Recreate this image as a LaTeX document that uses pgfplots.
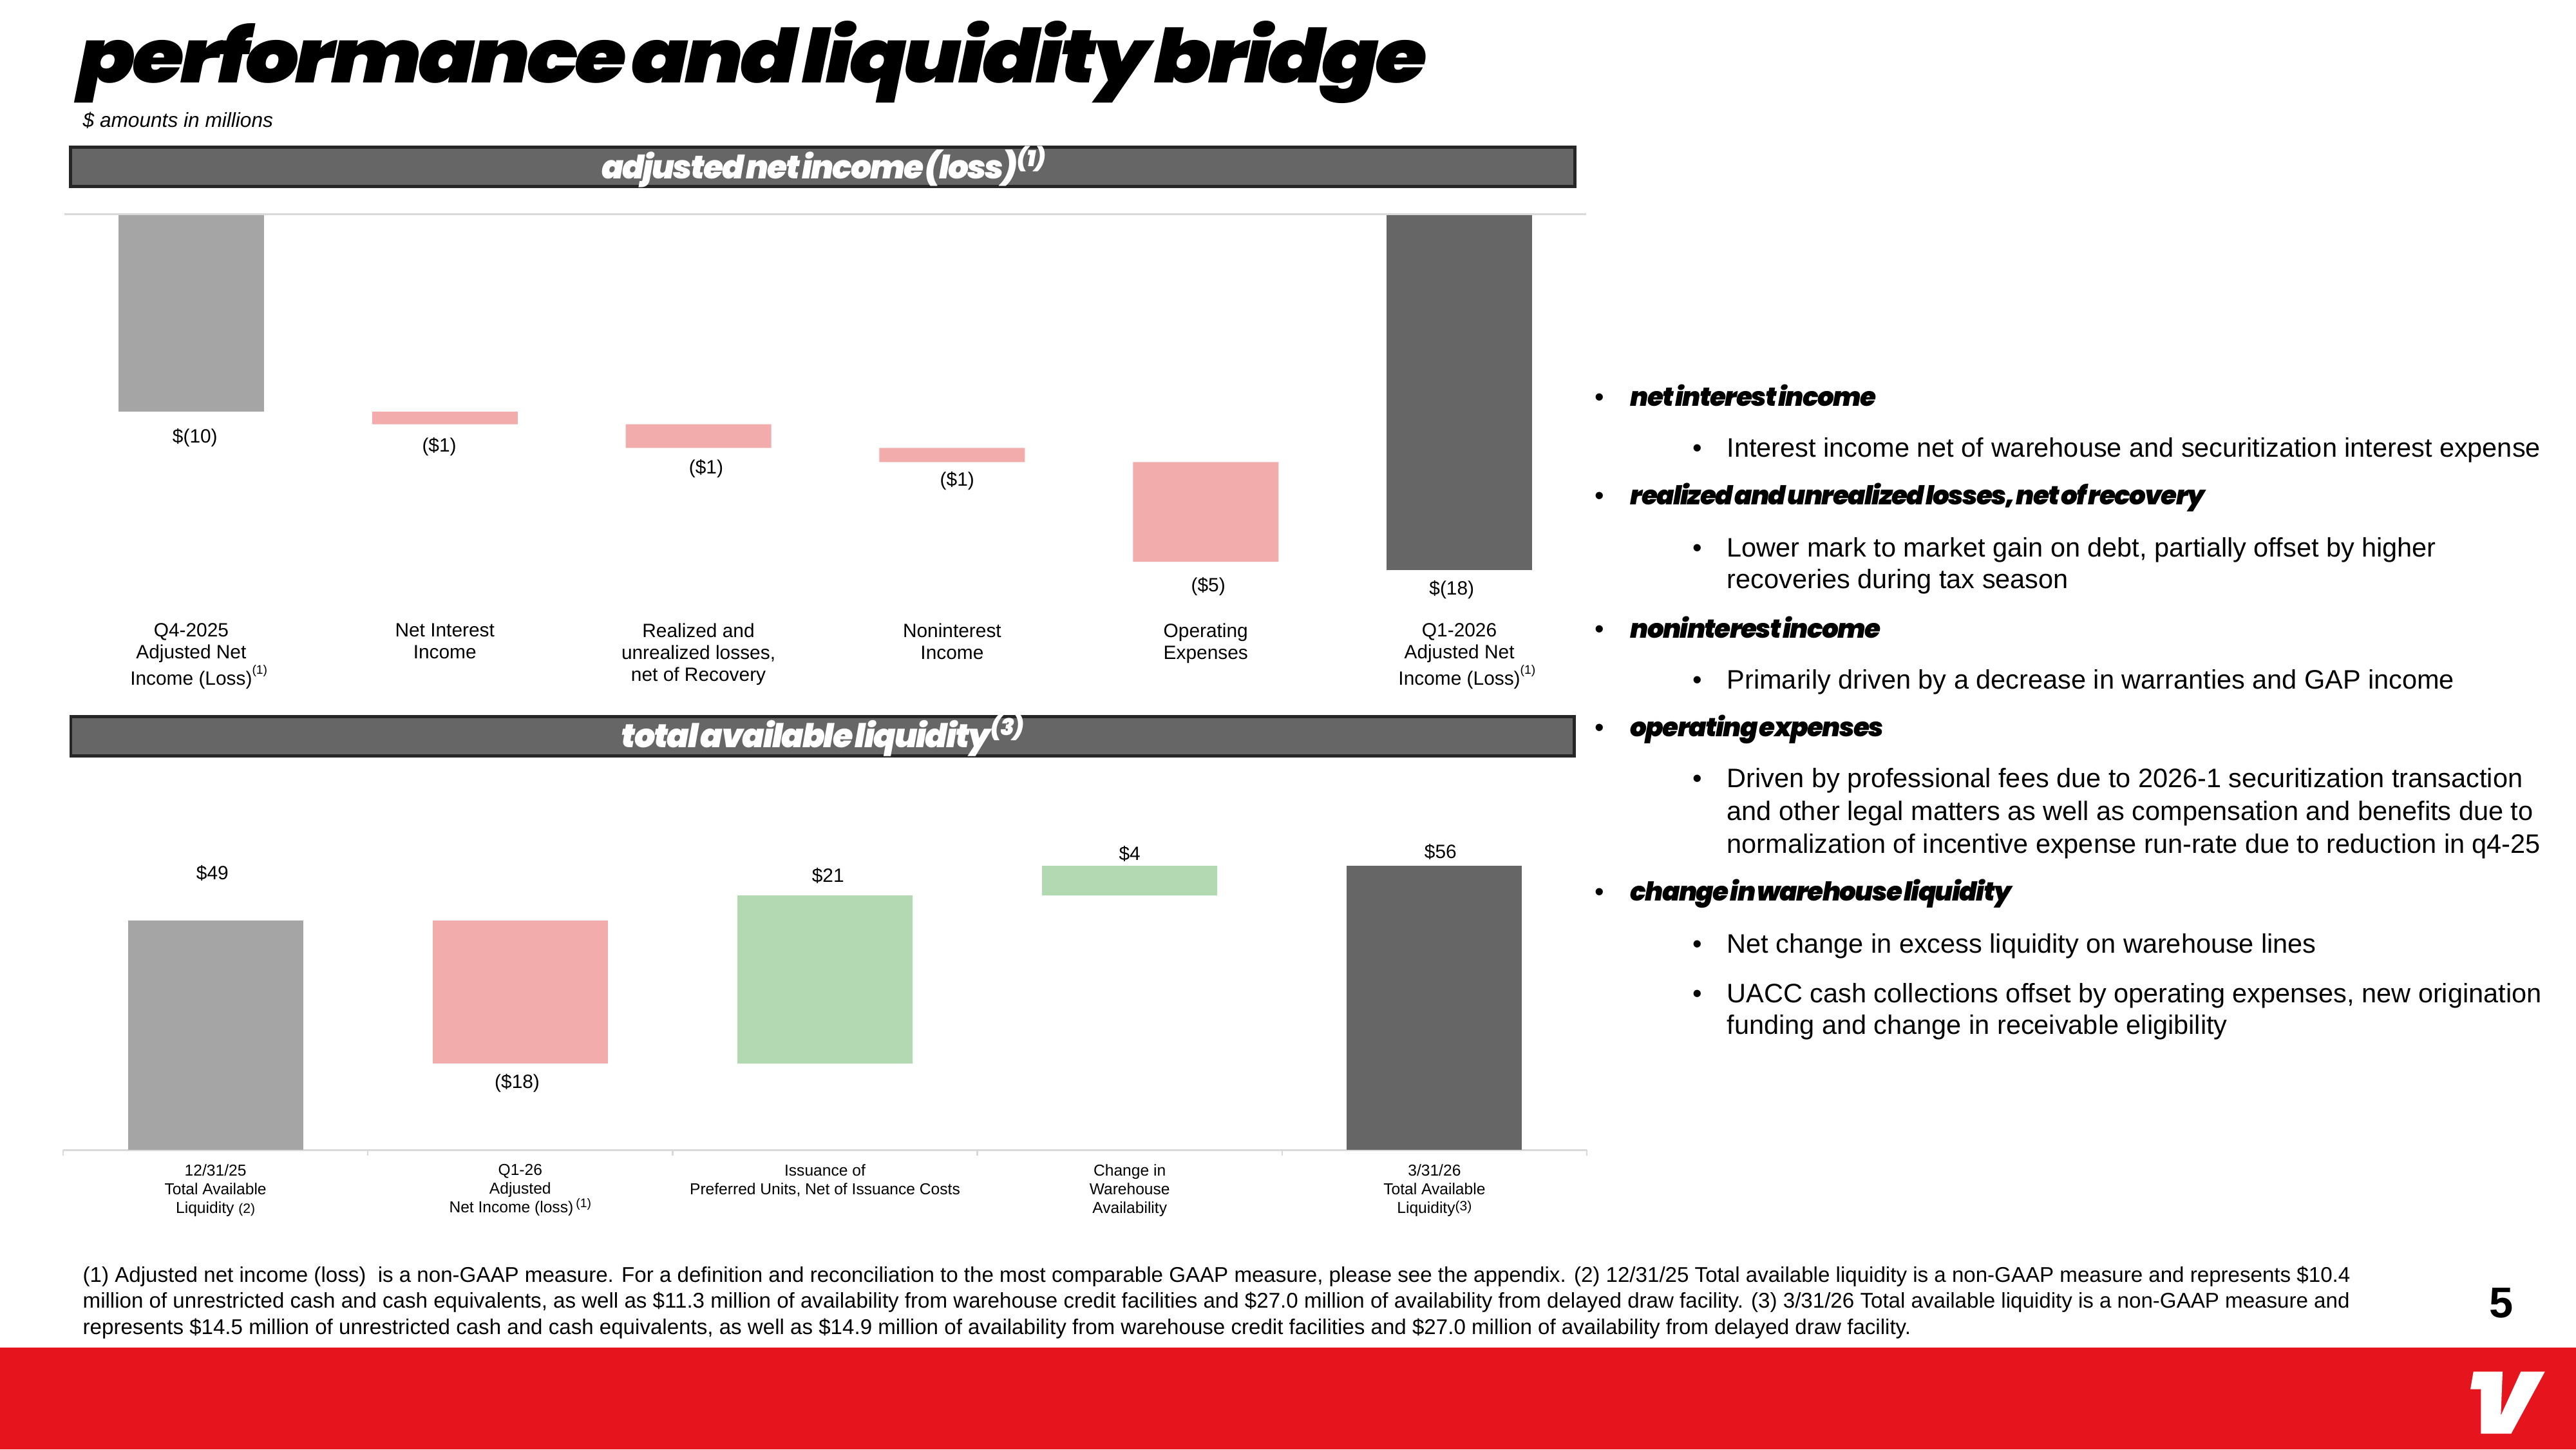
\documentclass[border=0pt]{standalone}
\usepackage{fontspec}
\usepackage{graphicx}
\usepackage{pgfplots}
\pgfplotsset{compat=1.18}
\setmainfont{Liberation Sans}
\IfFontExistsTF{Poppins Black Italic}
  {\newfontfamily\hfontx{Poppins Black Italic}[LetterSpace=-4,WordSpace=0.45]\newcommand\hfont{\hfontx}}
  {\newfontfamily\hfontx{Poppins}[LetterSpace=-4,WordSpace=0.45]\newcommand\hfont{\hfontx\bfseries\itshape}}
\definecolor{barg}{HTML}{A5A5A5}
\definecolor{bard}{HTML}{666666}
\definecolor{pinkb}{HTML}{F2ACAC}
\definecolor{greenb}{HTML}{B3D9B3}
\definecolor{hdrbd}{HTML}{262626}
\definecolor{hdrf}{HTML}{666666}
\definecolor{lineg}{HTML}{D9D9D9}
\definecolor{vred}{HTML}{E6141C}
\newcommand\lab{\fontsize{8.5}{9.7}\selectfont}
\newcommand\labs{\fontsize{7}{8.25}\selectfont}
\newcommand\supone{\rlap{\raisebox{0.55em}{\fontsize{5.5}{6}\selectfont(1)}}}
\newcommand\subtxt{\fontsize{11.8}{14.2}\selectfont}
\newcommand\hd{\hfont\fontsize{11.5}{13}\selectfont}
\newcommand\fn{\fontsize{9.42}{11.6}\selectfont}
\begin{document}
\begin{tikzpicture}
\useasboundingbox (0,0) rectangle (400mm,-225mm);
\fill[white] (0,0) rectangle (400mm,-225mm);
% red band and logo
\fill[vred] (0,-209.2mm) rectangle (400mm,-225mm);
\fill[white] (384.07mm,-212.93mm) -- (388.6mm,-212.93mm) -- (388.33mm,-219.73mm) -- (391.43mm,-212.93mm) -- (395.17mm,-212.93mm) -- (389.93mm,-222.57mm) -- (385.23mm,-222.57mm) -- (385.23mm,-215.67mm) -- (383.6mm,-215.67mm) -- cycle;
% title
\node[anchor=base west, inner sep=0pt] at (12.1mm,-12.8mm) {\resizebox{209.4mm}{9.6mm}{\hfont performance and liquidity bridge}};
\node[anchor=base west, inner sep=0pt, font=\fontsize{9}{10}\selectfont\itshape] at (12.8mm,-19.7mm) {\$ amounts in millions};
% header bars
\draw[hdrbd, fill=hdrf, line width=0.46mm] (10.93mm,-22.83mm) rectangle (244.57mm,-28.97mm);
\node[anchor=base, inner sep=0pt, text=white] at (128mm,-27.7mm) {\resizebox{69.2mm}{!}{\hfont adjusted net income (loss)\textsuperscript{(1)}}};
\draw[hdrbd, fill=hdrf, line width=0.46mm] (10.99mm,-111.23mm) rectangle (244.47mm,-117.32mm);
\node[anchor=base, inner sep=0pt, text=white] at (127.9mm,-116.0mm) {\resizebox{62.8mm}{!}{\hfont total available liquidity\textsuperscript{(3)}}};

% ---------- top chart ----------
\begin{axis}[
  at={(10mm,-89.83mm)}, anchor=south west, scale only axis,
  width=236.3mm, height=56.43mm,
  xmin=-0.5, xmax=5.5, ymin=-18.5, ymax=0,
  ybar stacked, bar width=22.6mm,
  axis line style={draw=none}, major tick length=0pt, ytick=\empty,
  xtick={0,1,2,3,4,5},
  xticklabels={{Q4-2025\\Adjusted Net\\Income (Loss)\supone},{Net Interest\\Income},{Realized and\\unrealized losses,\\net of Recovery},{Noninterest\\Income},{Operating\\Expenses},{Q1-2026\\Adjusted Net\\Income (Loss)\supone}},
  xticklabel style={align=center, font=\lab, inner sep=0pt, anchor=north, yshift=-6.9mm},
  clip=false,
]
\draw[lineg, line width=0.3mm] (axis cs:-0.5,0.06) -- (axis cs:5.5,0.06);
\addplot[draw=none, fill=none] coordinates {(0,0) (1,-10) (2,-10.64) (3,-11.85) (4,-12.57) (5,0)};
\addplot[draw=none, fill=barg] coordinates {(0,-10) (1,0) (2,0) (3,0) (4,0) (5,0)};
\addplot[draw=none, fill=pinkb] coordinates {(0,0) (1,-0.64) (2,-1.21) (3,-0.72) (4,-5.07) (5,0)};
\addplot[draw=none, fill=bard] coordinates {(0,0) (1,0) (2,0) (3,0) (4,0) (5,-18.06)};
\node[font=\lab] at (axis cs:0.015,-11.34) {\$(10)};
\node[font=\lab] at (axis cs:0.978,-11.77) {(\$1)};
\node[font=\lab] at (axis cs:2.03,-12.89) {(\$1)};
\node[font=\lab] at (axis cs:3.02,-13.51) {(\$1)};
\node[font=\lab] at (axis cs:4.01,-18.89) {(\$5)};
\node[font=\lab] at (axis cs:4.97,-19.05) {\$(18)};
\end{axis}

% ---------- bottom chart ----------
\begin{axis}[
  at={(9.8mm,-178.5mm)}, anchor=south west, scale only axis,
  width=236.6mm, height=47.25mm,
  xmin=-0.5, xmax=4.5, ymin=0, ymax=60,
  ybar stacked, bar width=27.2mm,
  axis x line=bottom, axis y line=none,
  x axis line style={-, draw=lineg, line width=0.3mm},
  xtick={0,1,2,3,4}, major tick length=0pt,
  minor xtick={-0.5,0.5,1.5,2.5,3.5,4.5}, minor tick length=0.9mm, tick align=outside,
  minor tick style={draw=lineg, line width=0.25mm},
  xticklabels={{12/31/25\\Total Available\\Liquidity {\fontsize{6}{6}\selectfont(2)}},{Q1-26\\Adjusted\\Net Income (loss)\,\raisebox{0.35em}{\fontsize{5.5}{6}\selectfont(1)}},{Issuance of\\Preferred Units, Net of Issuance Costs},{Change in\\Warehouse\\Availability},{3/31/26\\Total Available\\Liquidity\raisebox{0.15em}{\fontsize{6}{6}\selectfont(3)}}},
  xticklabel style={align=center, font=\labs, inner sep=0pt, anchor=north, yshift=-2.2mm},
  clip=false,
]
\addplot[draw=none, fill=none] coordinates {(0,0) (1,17.0) (2,17.0) (3,50.16) (4,0)};
\addplot[draw=none, fill=barg] coordinates {(0,45.2) (1,0) (2,0) (3,0) (4,0)};
\addplot[draw=none, fill=pinkb] coordinates {(0,0) (1,28.2) (2,0) (3,0) (4,0)};
\addplot[draw=none, fill=greenb] coordinates {(0,0) (1,0) (2,33.16) (3,5.84) (4,0)};
\addplot[draw=none, fill=bard] coordinates {(0,0) (1,0) (2,0) (3,0) (4,56.0)};
\node[font=\lab] at (axis cs:-0.01,54.6) {\$49};
\node[font=\lab] at (axis cs:0.99,13.1) {(\$18)};
\node[font=\lab] at (axis cs:2.01,54.0) {\$21};
\node[font=\lab] at (axis cs:3.0,58.4) {\$4};
\node[font=\lab] at (axis cs:4.02,58.8) {\$56};
\end{axis}

% ---------- right panel ----------
\begin{scope}[every node/.style={inner sep=0pt}]
\foreach \y/\t in {63.0/net interest income, 78.3/{realized and unrealized losses, net of recovery}, 99.0/noninterest income, 114.3/operating expenses, 139.8/change in warehouse liquidity}{
  \node[anchor=base west, font=\subtxt] at (247.6mm,-\y mm) {\textbullet};
  \node[anchor=base west, font=\hd] at (253.1mm,-\y mm) {\t};
}
\foreach \y in {70.9, 86.4, 106.9, 122.2, 147.9, 155.6}{
  \node[anchor=base west, font=\subtxt] at (262.8mm,-\y mm) {\textbullet};
}
\node[anchor=base west, font=\subtxt] at (268.1mm,-70.9mm) {Interest income net of warehouse and securitization interest expense};
\node[anchor=base west, font=\subtxt] at (268.1mm,-86.4mm) {Lower mark to market gain on debt, partially offset by higher};
\node[anchor=base west, font=\subtxt] at (268.1mm,-91.3mm) {recoveries during tax season};
\node[anchor=base west, font=\subtxt] at (268.1mm,-106.9mm) {Primarily driven by a decrease in warranties and GAP income};
\node[anchor=base west, font=\subtxt] at (268.1mm,-122.2mm) {Driven by professional fees due to 2026-1 securitization transaction};
\node[anchor=base west, font=\subtxt] at (268.1mm,-127.3mm) {and other legal matters as well as compensation and benefits due to};
\node[anchor=base west, font=\subtxt] at (268.1mm,-132.4mm) {normalization of incentive expense run-rate due to reduction in q4-25};
\node[anchor=base west, font=\subtxt] at (268.1mm,-147.9mm) {Net change in excess liquidity on warehouse lines};
\node[anchor=base west, font=\subtxt] at (268.1mm,-155.6mm) {UACC cash collections offset by operating expenses, new origination};
\node[anchor=base west, font=\subtxt] at (268.1mm,-160.5mm) {funding and change in receivable eligibility};
% footnotes
\node[anchor=base west, font=\fn] at (12.8mm,-199.0mm) {(1) Adjusted net income (loss)\ \ is a non-GAAP measure. For a definition and reconciliation to the most comparable GAAP measure, please see the appendix. (2) 12/31/25 Total available liquidity is a non-GAAP measure and represents \$10.4};
\node[anchor=base west, font=\fn] at (12.8mm,-203.0mm) {million of unrestricted cash and cash equivalents, as well as \$11.3 million of availability from warehouse credit facilities and \$27.0 million of availability from delayed draw facility. (3) 3/31/26 Total available liquidity is a non-GAAP measure and};
\node[anchor=base west, font=\fn] at (12.8mm,-207.1mm) {represents \$14.5 million of unrestricted cash and cash equivalents, as well as \$14.9 million of availability from warehouse credit facilities and \$27.0 million of availability from delayed draw facility.};
\node[font=\fontsize{19}{20}\selectfont\bfseries] at (388.4mm,-202.3mm) {5};
\end{scope}
\end{tikzpicture}
\end{document}
